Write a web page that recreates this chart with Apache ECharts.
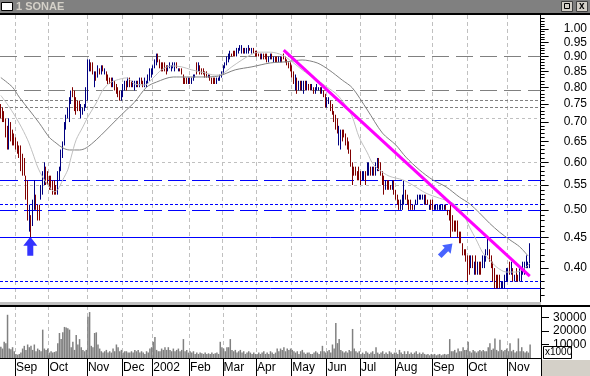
<!DOCTYPE html>
<html><head><meta charset="utf-8">
<script src="https://cdn.jsdelivr.net/npm/echarts@6/dist/echarts.min.js"></script>
<style>html,body{margin:0;padding:0;background:#fff}#c{width:590px;height:376px}</style>
</head><body><div id="c"></div>
<script>
// ---------- categories (trading days per month) ----------
const monthNames = ['Aug','Sep','Oct','Nov','Dec','2002','Feb','Mar','Apr','May','Jun','Jul','Aug','Sep','Oct','Nov'];
const monthDays  = [9,20,23,21,18,22,20,20,21,21,20,21,22,21,24,14];
const padDays = 6;

// ---------- OHLC per month: [open, close, low, high] ----------
const aug01 = [[0.74,0.72,0.71,0.75],[0.73,0.71,0.70,0.74],[0.72,0.70,0.70,0.73],[0.71,0.67,0.66,0.71],[0.68,0.64,0.63,0.69],[0.64,0.70,0.63,0.71],[0.69,0.66,0.65,0.70],[0.67,0.65,0.64,0.68],[0.66,0.64,0.64,0.67]];
const sep01 = [[0.66,0.64,0.63,0.66],[0.65,0.63,0.62,0.65],[0.64,0.61,0.61,0.64],[0.63,0.59,0.58,0.64],[0.61,0.57,0.57,0.62],[0.60,0.57,0.57,0.61],[0.56,0.53,0.52,0.57],[0.55,0.49,0.48,0.56],[0.47,0.50,0.46,0.51],[0.48,0.46,0.45,0.49],[0.47,0.51,0.47,0.52],[0.51,0.55,0.50,0.56],[0.53,0.51,0.50,0.53],[0.51,0.48,0.48,0.51],[0.50,0.48,0.48,0.51],[0.52,0.55,0.52,0.55],[0.53,0.57,0.53,0.58],[0.55,0.59,0.55,0.60],[0.58,0.56,0.55,0.59],[0.57,0.55,0.55,0.58]];
const oct01 = [[0.56,0.55,0.54,0.57],[0.56,0.54,0.54,0.57],[0.55,0.54,0.53,0.56],[0.55,0.53,0.53,0.56],[0.54,0.53,0.53,0.55],[0.53,0.57,0.53,0.58],[0.56,0.59,0.56,0.59],[0.59,0.62,0.58,0.63],[0.61,0.64,0.61,0.65],[0.64,0.69,0.64,0.70],[0.69,0.71,0.68,0.72],[0.72,0.74,0.71,0.74],[0.72,0.76,0.70,0.77],[0.76,0.79,0.75,0.79],[0.79,0.78,0.77,0.80],[0.78,0.74,0.73,0.79],[0.76,0.72,0.72,0.77],[0.75,0.73,0.73,0.76],[0.75,0.74,0.73,0.76],[0.71,0.74,0.71,0.75],[0.72,0.74,0.72,0.74],[0.73,0.74,0.73,0.75],[0.74,0.79,0.74,0.80]];
const nov01 = [[0.77,0.88,0.76,0.89],[0.86,0.88,0.85,0.89],[0.87,0.86,0.85,0.88],[0.87,0.85,0.84,0.88],[0.81,0.84,0.80,0.85],[0.84,0.82,0.82,0.85],[0.83,0.86,0.83,0.87],[0.86,0.85,0.84,0.86],[0.85,0.86,0.84,0.87],[0.86,0.85,0.85,0.87],[0.84,0.85,0.84,0.86],[0.85,0.83,0.82,0.85],[0.83,0.82,0.81,0.84],[0.82,0.81,0.81,0.83],[0.82,0.80,0.80,0.83],[0.81,0.82,0.80,0.83],[0.81,0.79,0.79,0.82],[0.80,0.78,0.78,0.81],[0.79,0.77,0.77,0.80],[0.78,0.76,0.76,0.79],[0.76,0.78,0.76,0.79]];
const dec01 = [[0.78,0.80,0.77,0.81],[0.80,0.81,0.79,0.82],[0.81,0.80,0.79,0.82],[0.80,0.82,0.80,0.83],[0.82,0.81,0.80,0.83],[0.82,0.80,0.80,0.82],[0.80,0.81,0.80,0.82],[0.80,0.82,0.79,0.82],[0.81,0.82,0.80,0.82],[0.82,0.81,0.80,0.82],[0.81,0.82,0.80,0.83],[0.82,0.81,0.81,0.83],[0.82,0.80,0.80,0.82],[0.80,0.82,0.80,0.83],[0.81,0.82,0.80,0.82],[0.82,0.83,0.81,0.84],[0.83,0.85,0.82,0.86],[0.84,0.86,0.83,0.86]];
const jan02 = [[0.85,0.87,0.84,0.87],[0.86,0.89,0.86,0.89],[0.88,0.90,0.87,0.91],[0.90,0.89,0.88,0.91],[0.89,0.87,0.86,0.89],[0.88,0.86,0.85,0.88],[0.87,0.86,0.85,0.88],[0.87,0.85,0.85,0.88],[0.86,0.85,0.84,0.87],[0.85,0.87,0.85,0.87],[0.86,0.87,0.86,0.88],[0.86,0.87,0.85,0.87],[0.86,0.88,0.86,0.88],[0.86,0.87,0.85,0.88],[0.87,0.86,0.86,0.88],[0.85,0.86,0.85,0.86],[0.86,0.85,0.85,0.86],[0.86,0.85,0.84,0.86],[0.84,0.82,0.81,0.84],[0.83,0.81,0.81,0.83],[0.82,0.81,0.81,0.83],[0.81,0.82,0.81,0.83]];
const feb02 = [[0.82,0.81,0.81,0.83],[0.81,0.82,0.81,0.83],[0.82,0.83,0.82,0.84],[0.83,0.84,0.83,0.84],[0.87,0.85,0.84,0.88],[0.85,0.87,0.85,0.88],[0.87,0.85,0.84,0.87],[0.86,0.85,0.84,0.86],[0.86,0.84,0.84,0.86],[0.85,0.84,0.83,0.85],[0.85,0.83,0.83,0.85],[0.83,0.84,0.83,0.84],[0.84,0.83,0.82,0.84],[0.83,0.82,0.81,0.83],[0.82,0.81,0.81,0.83],[0.83,0.82,0.81,0.83],[0.81,0.82,0.81,0.83],[0.82,0.83,0.82,0.83],[0.82,0.83,0.82,0.84],[0.83,0.85,0.83,0.85]];
const mar02 = [[0.85,0.87,0.84,0.87],[0.86,0.88,0.86,0.88],[0.88,0.89,0.87,0.90],[0.89,0.90,0.88,0.91],[0.90,0.91,0.89,0.92],[0.91,0.90,0.90,0.91],[0.91,0.90,0.90,0.92],[0.92,0.91,0.90,0.92],[0.91,0.92,0.90,0.93],[0.91,0.93,0.91,0.93],[0.92,0.94,0.92,0.94],[0.92,0.93,0.91,0.94],[0.93,0.92,0.91,0.93],[0.92,0.93,0.91,0.93],[0.92,0.93,0.91,0.93],[0.92,0.94,0.91,0.94],[0.93,0.92,0.92,0.93],[0.92,0.93,0.91,0.93],[0.93,0.92,0.91,0.93],[0.92,0.91,0.90,0.92]];
const apr02 = [[0.91,0.90,0.90,0.92],[0.91,0.90,0.90,0.91],[0.91,0.89,0.89,0.91],[0.90,0.90,0.89,0.91],[0.91,0.90,0.89,0.91],[0.90,0.89,0.89,0.91],[0.90,0.89,0.88,0.91],[0.89,0.90,0.88,0.90],[0.89,0.90,0.89,0.91],[0.90,0.89,0.89,0.91],[0.89,0.90,0.88,0.90],[0.90,0.89,0.88,0.90],[0.89,0.88,0.88,0.90],[0.88,0.89,0.88,0.90],[0.89,0.90,0.88,0.90],[0.90,0.89,0.88,0.90],[0.90,0.89,0.89,0.91],[0.90,0.89,0.88,0.90],[0.89,0.88,0.87,0.89],[0.88,0.86,0.86,0.88],[0.87,0.85,0.85,0.88]];
const may02 = [[0.86,0.84,0.83,0.87],[0.84,0.82,0.81,0.85],[0.80,0.83,0.79,0.84],[0.83,0.80,0.78,0.83],[0.79,0.81,0.79,0.82],[0.81,0.80,0.79,0.82],[0.79,0.81,0.79,0.82],[0.79,0.81,0.78,0.82],[0.81,0.79,0.79,0.82],[0.79,0.81,0.79,0.82],[0.80,0.79,0.79,0.81],[0.81,0.80,0.79,0.81],[0.79,0.80,0.79,0.81],[0.80,0.79,0.78,0.80],[0.79,0.80,0.78,0.80],[0.79,0.80,0.79,0.81],[0.79,0.80,0.79,0.80],[0.80,0.79,0.78,0.80],[0.78,0.79,0.78,0.80],[0.79,0.78,0.77,0.79],[0.78,0.75,0.74,0.78]];
const jun02 = [[0.75,0.76,0.74,0.77],[0.75,0.76,0.75,0.77],[0.76,0.74,0.73,0.76],[0.75,0.73,0.72,0.75],[0.73,0.70,0.70,0.73],[0.71,0.69,0.68,0.72],[0.70,0.68,0.67,0.71],[0.66,0.68,0.64,0.69],[0.65,0.67,0.63,0.68],[0.68,0.66,0.65,0.68],[0.67,0.66,0.66,0.68],[0.67,0.65,0.64,0.67],[0.66,0.64,0.63,0.66],[0.64,0.62,0.62,0.65],[0.63,0.60,0.59,0.63],[0.60,0.56,0.55,0.60],[0.58,0.57,0.57,0.59],[0.59,0.57,0.57,0.59],[0.58,0.57,0.56,0.58],[0.58,0.57,0.56,0.59]];
const jul02 = [[0.58,0.56,0.55,0.58],[0.56,0.57,0.56,0.58],[0.56,0.58,0.56,0.58],[0.58,0.56,0.55,0.58],[0.57,0.59,0.57,0.60],[0.58,0.60,0.57,0.60],[0.59,0.58,0.57,0.59],[0.57,0.58,0.57,0.59],[0.59,0.57,0.57,0.59],[0.57,0.59,0.57,0.60],[0.59,0.60,0.58,0.61],[0.60,0.59,0.58,0.61],[0.59,0.57,0.57,0.60],[0.58,0.56,0.55,0.58],[0.57,0.54,0.53,0.57],[0.54,0.55,0.54,0.56],[0.55,0.54,0.54,0.56],[0.55,0.54,0.54,0.56],[0.55,0.54,0.54,0.55],[0.54,0.55,0.54,0.56],[0.55,0.53,0.53,0.56]];
const aug02 = [[0.54,0.52,0.52,0.54],[0.53,0.51,0.51,0.53],[0.52,0.51,0.50,0.52],[0.50,0.51,0.50,0.52],[0.51,0.52,0.50,0.53],[0.51,0.55,0.51,0.56],[0.54,0.52,0.52,0.54],[0.53,0.51,0.51,0.53],[0.52,0.51,0.50,0.52],[0.52,0.50,0.50,0.52],[0.51,0.50,0.50,0.51],[0.50,0.51,0.50,0.51],[0.51,0.52,0.51,0.52],[0.51,0.52,0.51,0.53],[0.52,0.53,0.52,0.53],[0.52,0.53,0.52,0.53],[0.52,0.53,0.52,0.53],[0.52,0.53,0.51,0.53],[0.53,0.52,0.51,0.53],[0.52,0.51,0.51,0.52],[0.50,0.51,0.50,0.51],[0.51,0.50,0.50,0.52]];
const sep02 = [[0.51,0.50,0.50,0.52],[0.50,0.51,0.50,0.51],[0.50,0.51,0.50,0.51],[0.50,0.51,0.50,0.51],[0.50,0.51,0.50,0.51],[0.50,0.51,0.50,0.51],[0.50,0.51,0.50,0.51],[0.50,0.51,0.50,0.51],[0.51,0.50,0.50,0.51],[0.50,0.49,0.49,0.50],[0.50,0.48,0.48,0.50],[0.50,0.46,0.45,0.51],[0.48,0.46,0.46,0.49],[0.48,0.47,0.46,0.48],[0.48,0.46,0.46,0.48],[0.47,0.46,0.45,0.48],[0.46,0.45,0.44,0.46],[0.45,0.44,0.44,0.46],[0.44,0.43,0.42,0.44],[0.43,0.42,0.42,0.43],[0.43,0.41,0.41,0.43]];
const oct02 = [[0.42,0.39,0.38,0.42],[0.41,0.40,0.39,0.42],[0.41,0.42,0.40,0.42],[0.42,0.40,0.40,0.42],[0.40,0.41,0.39,0.41],[0.41,0.39,0.39,0.42],[0.39,0.41,0.39,0.41],[0.41,0.40,0.39,0.41],[0.41,0.40,0.39,0.41],[0.40,0.41,0.40,0.42],[0.41,0.42,0.40,0.42],[0.41,0.43,0.41,0.43],[0.42,0.44,0.42,0.45],[0.43,0.42,0.41,0.43],[0.42,0.41,0.40,0.42],[0.41,0.39,0.38,0.41],[0.39,0.37,0.37,0.40],[0.39,0.38,0.37,0.39],[0.39,0.38,0.37,0.39],[0.38,0.37,0.37,0.39],[0.37,0.38,0.37,0.38],[0.37,0.38,0.37,0.38],[0.37,0.38,0.37,0.39],[0.38,0.39,0.38,0.40]];
const nov02 = [[0.39,0.40,0.38,0.40],[0.40,0.39,0.39,0.41],[0.39,0.40,0.39,0.41],[0.40,0.39,0.38,0.40],[0.38,0.39,0.38,0.39],[0.39,0.38,0.38,0.40],[0.39,0.38,0.38,0.39],[0.38,0.39,0.38,0.40],[0.39,0.40,0.38,0.40],[0.39,0.40,0.39,0.41],[0.40,0.41,0.39,0.41],[0.40,0.41,0.40,0.42],[0.40,0.41,0.40,0.41],[0.40,0.43,0.40,0.44]];

// ---------- volume per month ----------
const volAug01 = [8400,7000,12000,11000,32000,7000,6500,8000,5000];
const volSep01 = [3000,2500,3000,4000,7000,9000,6000,10000,8000,9000,6000,10000,5000,7000,6000,5000,21000,7000,6000,7000];
const volOct01 = [4000,5000,4000,4500,5000,11000,18500,14000,19000,23000,22500,22000,21000,8000,12000,6000,17000,10000,14000,8000,6000,5000,6000];
const volNov01 = [30500,34000,9000,8000,18500,19000,10000,7000,5000,4000,5000,6000,4000,5000,4000,7000,5000,10000,8000,5000,6000];
const volDec01 = [4000,5000,5000,4000,4000,5000,4000,6000,5000,6000,4000,5000,4000,3000,5000,4000,7000,8000];
const volJan02 = [12000,15500,6000,5000,5000,7000,6000,8000,6000,8000,6000,5000,7000,5000,6000,7000,5000,6000,14000,5000,6000,4000];
const volFeb02 = [5000,4000,5000,3000,4000,3000,4000,3500,3000,4000,3000,3500,3000,4000,3000,3500,4000,3000,12000,8000];
const volMar02 = [7000,5000,8000,8000,14000,6000,5000,6000,4000,5000,6000,4000,5000,3000,4000,5000,4000,3000,4000,3000];
const volApr02 = [3000,4000,3000,4000,5000,3000,4000,3000,5000,4000,3000,4000,7000,5000,7000,6000,8000,5000,7000,6000,7000];
const volMay02 = [6000,5000,4000,5000,3000,5000,6000,4000,3000,4000,4000,3000,3000,4000,5000,4000,3000,5000,9000,5000,4000];
const volJun02 = [5000,6000,4000,10000,7000,26000,11000,14000,6000,5000,4000,5000,4000,6000,5000,21500,7000,5000,4000,5000];
const volJul02 = [3000,4000,3000,5000,4000,3000,4000,5000,3000,8000,4000,3000,4000,5000,3000,4000,3000,5000,4000,3000,4000];
const volAug02 = [4000,3000,6000,4000,3000,5000,3000,5000,3000,4000,3000,4000,5000,3000,4000,3000,4000,3000,2500,3000,2000,3000];
const volSep02 = [2500,3000,2000,2500,3000,2000,2500,3000,2500,3000,14000,5000,5000,6000,4000,7000,5000,5000,8000,6000,6000];
const volOct02 = [12000,5000,4000,6000,5000,4000,5000,6000,5000,6000,5000,5000,8000,11000,6000,7000,14500,6000,5000,13500,6000,5000,6000,7000];
const volNov02 = [5000,11000,5000,6000,4000,5000,14500,5000,8000,5000,4000,5000,4000,10000];

// ---------- moving averages: [dayIndex, price] ----------
const maLong = [[0,0.83],[7,0.80],[11,0.77],[17,0.733],[23,0.697],[29,0.66],[33,0.646],[37,0.634],[41,0.629],[47,0.629],[51,0.634],[57,0.654],[63,0.679],[69,0.706],[75,0.733],[80,0.756],[87,0.80],[93,0.816],[103,0.832],[111,0.832],[120,0.832],[130,0.835],[140,0.855],[150,0.865],[161,0.878],[171,0.882],[180,0.888],[189,0.878],[196,0.855],[204,0.822],[210,0.798],[219,0.733],[228,0.671],[236,0.641],[242,0.612],[250,0.583],[258,0.561],[266,0.546],[274,0.525],[280,0.512],[286,0.494],[292,0.475],[298,0.459],[304,0.446],[310,0.434],[315,0.419]];
const maShort = [[0,0.775],[5,0.742],[11,0.697],[16,0.654],[19,0.622],[22,0.589],[25,0.567],[29,0.546],[32,0.536],[34,0.540],[37,0.561],[40,0.583],[42,0.612],[45,0.654],[49,0.687],[52,0.714],[57,0.753],[61,0.792],[65,0.813],[69,0.822],[75,0.829],[80,0.81],[86,0.807],[91,0.829],[96,0.855],[102,0.868],[108,0.865],[114,0.855],[122,0.845],[128,0.838],[132,0.841],[138,0.865],[144,0.888],[149,0.905],[154,0.915],[161,0.915],[168,0.905],[174,0.882],[180,0.855],[189,0.822],[195,0.80],[201,0.777],[207,0.739],[210,0.714],[214,0.661],[219,0.622],[222,0.598],[226,0.583],[232,0.569],[240,0.561],[246,0.55],[254,0.533],[262,0.523],[270,0.513],[276,0.494],[280,0.468],[284,0.446],[288,0.424],[292,0.413],[296,0.402],[302,0.394],[308,0.394],[314,0.402],[316,0.408]];
const trendLine = [[169,0.922],[316,0.388]];
const upArrow = [[17,0.435]];
const diagArrow = [[266,0.429]];

// ---------- horizontal levels ----------
const grayLongDash = [0.903, 0.793];
const grayDotted = [0.755, 0.743];
const lightGrayLevels = [0.706, 0.60, 0.553];
const blueLongDash = [0.565, 0.503];
const blueShortDash = [0.513, 0.382];
const blueSolid = [0.45, 0.372];

// ---------- tick labels ----------
const priceLabels = [0.40,0.45,0.50,0.55,0.60,0.65,0.70,0.75,0.80,0.85,0.90,0.95,1.00];
const volumeLabels = [10000,20000,30000];

// ---------- build ----------
const categories = [];
const monthStart = {};
monthNames.forEach((m, k) => {
  monthStart[categories.length] = m;
  for (let d = 1; d <= monthDays[k]; d++) categories.push(m + (k < 5 ? ' 2001' : ' 2002') + ' #' + d);
});
for (let e = 1; e <= padDays; e++) categories.push('pad' + e);
const isMonthStart = (idx) => idx > 0 && monthStart[idx] !== undefined;

const ohlc = [].concat(aug01, sep01, oct01, nov01, dec01, jan02, feb02, mar02, apr02, may02, jun02, jul02, aug02, sep02, oct02, nov02);
const volume = [].concat(volAug01, volSep01, volOct01, volNov01, volDec01, volJan02, volFeb02, volMar02, volApr02, volMay02, volJun02, volJul02, volAug02, volSep02, volOct02, volNov02);

const minorTicks = [];
for (let c = 36; c <= 104; c++) if (c % 5 !== 0) minorTicks.push(c / 100);
const majorTicks = [0.35].concat(priceLabels);

const FONT = '"Liberation Sans", Arial, sans-serif';
const lvl = (vals, color, type) => vals.map(v => ({ yAxis: v, lineStyle: { color, type, width: 1 } }));
const markLines = [].concat(
  lvl(lightGrayLevels, '#c0c0c0', [3, 3]),
  lvl(grayLongDash, '#808080', [17, 7]),
  lvl(grayDotted, '#808080', [3, 2]),
  lvl(blueLongDash, '#0000ff', [18, 6]),
  lvl(blueShortDash, '#0000ff', [3, 2]),
  lvl(blueSolid, '#0000ff', 'solid')
);

const PMIN = 0.3513, PMAX = 1.055;
const vGrid = { show: true, interval: (i) => isMonthStart(i), lineStyle: { color: '#c0c0c0', type: [4, 3], width: 1 } };

const chart = echarts.init(document.getElementById('c'), null, { renderer: 'canvas' });
chart.setOption({
  animation: false,
  backgroundColor: '#fff',
  grid: [
    { left: 0, top: 15, width: 541, height: 287, containLabel: false },
    { left: 0, top: 306, width: 541, height: 52, containLabel: false }
  ],
  xAxis: [
    { type: 'category', gridIndex: 0, data: categories, boundaryGap: true,
      axisLine: { show: false }, axisTick: { show: false }, axisLabel: { show: false }, splitLine: vGrid },
    { type: 'category', gridIndex: 1, data: categories, boundaryGap: true, position: 'bottom',
      axisLine: { show: true, onZero: false, lineStyle: { color: '#000', width: 1 } },
      axisTick: { show: true, interval: (i) => isMonthStart(i), length: 18, lineStyle: { color: '#000', width: 1 } },
      axisLabel: { show: true, interval: (i) => isMonthStart(i), formatter: (v, i) => monthStart[i] || '',
        align: 'left', margin: 4, fontSize: 12, color: '#000', fontFamily: FONT },
      splitLine: vGrid }
  ],
  yAxis: [
    { type: 'log', logBase: 10, gridIndex: 0, position: 'right', min: PMIN, max: PMAX,
      axisLine: { show: true, lineStyle: { color: '#000', width: 1 } },
      axisTick: { show: true, length: 8, customValues: majorTicks, lineStyle: { color: '#000' } },
      axisLabel: { show: true, customValues: priceLabels, formatter: (v) => Number(v).toFixed(2),
        margin: 23, fontSize: 12, color: '#000', fontFamily: FONT },
      splitLine: { show: false }, minorTick: { show: false } },
    { type: 'log', logBase: 10, gridIndex: 0, position: 'right', min: PMIN, max: PMAX,
      axisLine: { show: false },
      axisTick: { show: true, length: 4, customValues: minorTicks, lineStyle: { color: '#000' } },
      axisLabel: { show: false }, splitLine: { show: false } },
    { type: 'value', gridIndex: 1, position: 'right', min: 0, max: 38500,
      axisLine: { show: true, lineStyle: { color: '#000', width: 1 } },
      axisTick: { show: true, length: 8, customValues: volumeLabels, lineStyle: { color: '#000' } },
      axisLabel: { show: true, customValues: volumeLabels, formatter: (v) => String(Math.round(v)),
        margin: 12, fontSize: 12, color: '#000', fontFamily: FONT },
      splitLine: { show: false } }
  ],
  series: [
    { type: 'candlestick', name: 'SONAE', xAxisIndex: 0, yAxisIndex: 0, data: ohlc, barWidth: 1.2, z: 3,
      itemStyle: { color: '#000080', color0: '#800000', borderColor: '#000080', borderColor0: '#800000', borderWidth: 1 },
      markLine: { silent: true, symbol: 'none', z: 1, label: { show: false }, data: markLines } },
    { type: 'line', name: 'MA long', xAxisIndex: 0, yAxisIndex: 0, data: maLong, symbol: 'none', smooth: 0.3, z: 4,
      lineStyle: { color: '#808080', width: 1 } },
    { type: 'line', name: 'MA short', xAxisIndex: 0, yAxisIndex: 0, data: maShort, symbol: 'none', smooth: 0.3, z: 4,
      lineStyle: { color: '#c0c0c0', width: 1 } },
    { type: 'line', name: 'Trend', xAxisIndex: 0, yAxisIndex: 0, data: trendLine, symbol: 'none', z: 5,
      lineStyle: { color: '#ff00ff', width: 3 } },
    { type: 'scatter', xAxisIndex: 0, yAxisIndex: 0, data: upArrow, z: 6,
      symbol: 'path://M7,0 L14,9 L10,9 L10,19 L4,19 L4,9 L0,9 Z', symbolSize: [14, 19], symbolOffset: [1, 0],
      itemStyle: { color: '#0000ff' } },
    { type: 'scatter', xAxisIndex: 0, yAxisIndex: 0, data: diagArrow, z: 6,
      symbol: 'path://M7,0 L14,9 L10,9 L10,19 L4,19 L4,9 L0,9 Z', symbolSize: [12, 18], symbolRotate: -45,
      itemStyle: { color: '#1a3cff' } },
    { type: 'bar', name: 'Volume', xAxisIndex: 1, yAxisIndex: 2, data: volume, barWidth: 1.5, itemStyle: { color: '#808080' } }
  ],
  graphic: [
    { type: 'rect', z: 100, shape: { x: 0, y: 0, width: 590, height: 13 }, style: { fill: '#808080' } },
    { type: 'rect', z: 100, shape: { x: 0, y: 13, width: 590, height: 2 }, style: { fill: '#000' } },
    { type: 'rect', z: 101, shape: { x: 1.5, y: 2.5, width: 11, height: 8 }, style: { fill: '#fff', stroke: '#000', lineWidth: 1 } },
    { type: 'text', z: 101, x: 16, y: 1, style: { text: '1 SONAE', fill: '#d4d0c8', font: 'bold 11px ' + FONT } },
    { type: 'rect', z: 101, shape: { x: 561.5, y: 1.5, width: 11, height: 10 }, style: { fill: '#d4d0c8', stroke: '#404040', lineWidth: 1 } },
    { type: 'rect', z: 102, shape: { x: 564.5, y: 3.5, width: 5, height: 5 }, style: { fill: 'none', stroke: '#000', lineWidth: 1 } },
    { type: 'rect', z: 101, shape: { x: 576.5, y: 1.5, width: 11, height: 10 }, style: { fill: '#d4d0c8', stroke: '#404040', lineWidth: 1 } },
    { type: 'text', z: 102, x: 579, y: 1, style: { text: 'x', fill: '#000', font: 'bold 10px ' + FONT } },
    { type: 'rect', z: 100, shape: { x: 0, y: 302, width: 541, height: 3 }, style: { fill: '#c0c0c0' } },
    { type: 'rect', z: 100, shape: { x: 0, y: 305, width: 590, height: 2 }, style: { fill: '#000' } },
    { type: 'rect', z: 101, shape: { x: 543.5, y: 346.5, width: 28, height: 12 }, style: { fill: '#fff', stroke: '#000', lineWidth: 1 } },
    { type: 'text', z: 102, x: 545, y: 347.5, style: { text: 'x1000', fill: '#000', font: '10px ' + FONT } },
    { type: 'rect', z: 100, shape: { x: 542, y: 360, width: 48, height: 16 }, style: { fill: '#d4d0c8' } }
  ]
});
</script>
</body></html>
